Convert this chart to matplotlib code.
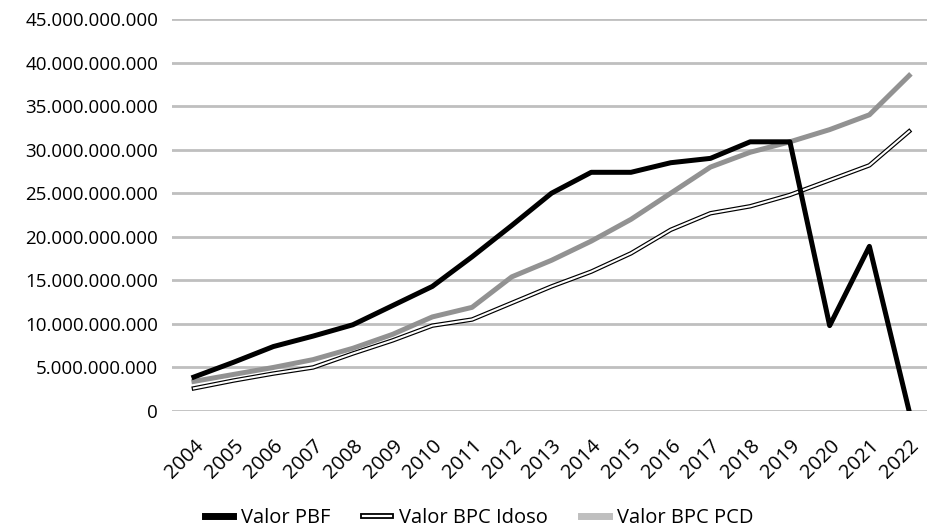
import matplotlib.pyplot as plt
import matplotlib.patheffects as pe
from matplotlib.lines import Line2D
from matplotlib.ticker import FuncFormatter

plt.rcParams['font.family'] = ['Open Sans', 'DejaVu Sans']

anos = list(range(2004, 2023))

# valores anuais em reais
valor_pbf = [3.9e9, 5.6e9, 7.4e9, 8.6e9, 9.9e9, 12.1e9, 14.3e9, 17.7e9, 21.3e9, 25.0e9,
             27.4e9, 27.4e9, 28.5e9, 29.0e9, 30.9e9, 30.9e9, 9.8e9, 18.9e9, 0.0]
valor_bpc_idoso = [2.6e9, 3.5e9, 4.3e9, 5.0e9, 6.6e9, 8.1e9, 9.8e9, 10.5e9, 12.4e9, 14.3e9,
                   16.0e9, 18.1e9, 20.8e9, 22.7e9, 23.5e9, 24.8e9, 26.5e9, 28.2e9, 32.1e9]
valor_bpc_pcd = [3.4e9, 4.2e9, 5.0e9, 5.9e9, 7.2e9, 8.8e9, 10.8e9, 11.9e9, 15.4e9, 17.3e9,
                 19.5e9, 22.0e9, 25.0e9, 28.0e9, 29.7e9, 30.9e9, 32.3e9, 34.0e9, 38.5e9]

fig = plt.figure(figsize=(9.27, 5.30), dpi=100)
ax = fig.add_axes([0.1856, 0.2245, 0.8144, 0.7397])

x = list(range(len(anos)))

# linha dupla: contorno preto com miolo branco
dupla = [pe.Stroke(linewidth=3.2, foreground='black'), pe.Normal()]
ax.plot(x, valor_bpc_idoso, color='white', lw=1.5, zorder=3, path_effects=dupla)
ax.plot(x, valor_bpc_pcd, color='#929292', lw=3.6, zorder=4)
ax.plot(x, valor_pbf, color='black', lw=3.6, zorder=5)

ax.set_xlim(-0.55, 18.45)
ax.set_ylim(0, 45e9)
ax.set_yticks([i * 5e9 for i in range(10)])
ax.yaxis.set_major_formatter(FuncFormatter(lambda v, p: f'{v:,.0f}'.replace(',', '.')))
ax.set_xticks(x)
ax.set_xticklabels([str(a) for a in anos], rotation=45, ha='right', va='top',
                   rotation_mode='anchor')
ax.tick_params(axis='both', length=0, labelsize=13.5)
ax.tick_params(axis='x', labelsize=14.5, pad=18)
ax.tick_params(axis='y', pad=10)
ax.grid(axis='y', color='#bfbfbf', lw=2)
ax.set_axisbelow(True)
for s in ax.spines.values():
    s.set_visible(False)

h_pbf = Line2D([], [], color='black', lw=5)
h_idoso = Line2D([], [], color='white', lw=1.6,
                 path_effects=[pe.Stroke(linewidth=4.2, foreground='black'), pe.Normal()])
h_pcd = Line2D([], [], color='#bfbfbf', lw=5)
fig.legend([h_pbf, h_idoso, h_pcd], ['Valor PBF', 'Valor BPC Idoso', 'Valor BPC PCD'],
           loc='center', bbox_to_anchor=(0.517, 0.022), ncol=3, frameon=False,
           fontsize=14.5, handlelength=1.4, handletextpad=0.4, columnspacing=1.6)

fig.savefig('out.png', dpi=100)
